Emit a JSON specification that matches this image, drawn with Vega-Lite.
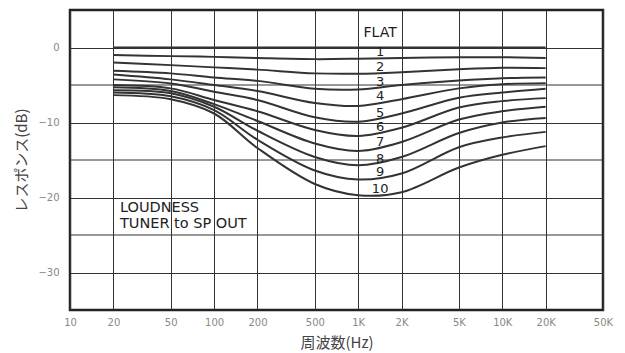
{
  "$schema": "https://vega.github.io/schema/vega-lite/v6.json",
  "width": 533,
  "height": 300,
  "autosize": {"type": "none"},
  "padding": {"left": 70, "top": 10, "right": 22, "bottom": 43},
  "background": "white",
  "config": {
    "view": {"stroke": "#222", "strokeWidth": 2.5},
    "font": "DejaVu Sans"
  },
  "datasets": {
    "curves": [
      {"s": "FLAT", "f": 20, "db": 0}, {"s": "FLAT", "f": 50, "db": 0}, {"s": "FLAT", "f": 100, "db": 0}, {"s": "FLAT", "f": 200, "db": 0}, {"s": "FLAT", "f": 500, "db": 0}, {"s": "FLAT", "f": 1000, "db": 0}, {"s": "FLAT", "f": 2000, "db": 0}, {"s": "FLAT", "f": 5000, "db": 0}, {"s": "FLAT", "f": 10000, "db": 0}, {"s": "FLAT", "f": 20000, "db": 0},
      {"s": "1", "f": 20, "db": -1.0}, {"s": "1", "f": 50, "db": -1.15}, {"s": "1", "f": 100, "db": -1.25}, {"s": "1", "f": 200, "db": -1.4}, {"s": "1", "f": 500, "db": -1.55}, {"s": "1", "f": 1000, "db": -1.5}, {"s": "1", "f": 2000, "db": -1.4}, {"s": "1", "f": 5000, "db": -1.3}, {"s": "1", "f": 10000, "db": -1.3}, {"s": "1", "f": 20000, "db": -1.4},
      {"s": "2", "f": 20, "db": -2.0}, {"s": "2", "f": 50, "db": -2.35}, {"s": "2", "f": 100, "db": -2.65}, {"s": "2", "f": 200, "db": -2.95}, {"s": "2", "f": 500, "db": -3.45}, {"s": "2", "f": 1000, "db": -3.5}, {"s": "2", "f": 2000, "db": -3.3}, {"s": "2", "f": 5000, "db": -2.9}, {"s": "2", "f": 10000, "db": -2.7}, {"s": "2", "f": 20000, "db": -2.75},
      {"s": "3", "f": 20, "db": -3.1}, {"s": "3", "f": 50, "db": -3.45}, {"s": "3", "f": 100, "db": -4.0}, {"s": "3", "f": 200, "db": -4.45}, {"s": "3", "f": 500, "db": -5.5}, {"s": "3", "f": 1000, "db": -5.6}, {"s": "3", "f": 2000, "db": -5.0}, {"s": "3", "f": 5000, "db": -4.4}, {"s": "3", "f": 10000, "db": -4.1}, {"s": "3", "f": 20000, "db": -4.0},
      {"s": "4", "f": 20, "db": -3.6}, {"s": "4", "f": 50, "db": -4.25}, {"s": "4", "f": 100, "db": -5.0}, {"s": "4", "f": 200, "db": -5.8}, {"s": "4", "f": 500, "db": -7.4}, {"s": "4", "f": 1000, "db": -7.8}, {"s": "4", "f": 2000, "db": -6.9}, {"s": "4", "f": 5000, "db": -5.45}, {"s": "4", "f": 10000, "db": -4.9}, {"s": "4", "f": 20000, "db": -4.75},
      {"s": "5", "f": 20, "db": -4.25}, {"s": "5", "f": 50, "db": -4.8}, {"s": "5", "f": 100, "db": -5.9}, {"s": "5", "f": 200, "db": -7.0}, {"s": "5", "f": 500, "db": -9.3}, {"s": "5", "f": 1000, "db": -9.9}, {"s": "5", "f": 2000, "db": -8.8}, {"s": "5", "f": 5000, "db": -6.7}, {"s": "5", "f": 10000, "db": -6.0}, {"s": "5", "f": 20000, "db": -5.5},
      {"s": "6", "f": 20, "db": -5.0}, {"s": "6", "f": 50, "db": -5.45}, {"s": "6", "f": 100, "db": -7.0}, {"s": "6", "f": 200, "db": -8.5}, {"s": "6", "f": 500, "db": -11.0}, {"s": "6", "f": 1000, "db": -11.8}, {"s": "6", "f": 2000, "db": -10.7}, {"s": "6", "f": 5000, "db": -8.0}, {"s": "6", "f": 10000, "db": -7.15}, {"s": "6", "f": 20000, "db": -6.75},
      {"s": "7", "f": 20, "db": -5.3}, {"s": "7", "f": 50, "db": -5.8}, {"s": "7", "f": 100, "db": -7.55}, {"s": "7", "f": 200, "db": -9.8}, {"s": "7", "f": 500, "db": -12.8}, {"s": "7", "f": 1000, "db": -13.8}, {"s": "7", "f": 2000, "db": -12.6}, {"s": "7", "f": 5000, "db": -9.6}, {"s": "7", "f": 10000, "db": -8.5}, {"s": "7", "f": 20000, "db": -7.9},
      {"s": "8", "f": 20, "db": -5.7}, {"s": "8", "f": 50, "db": -6.1}, {"s": "8", "f": 100, "db": -7.9}, {"s": "8", "f": 200, "db": -11.1}, {"s": "8", "f": 500, "db": -14.6}, {"s": "8", "f": 1000, "db": -15.7}, {"s": "8", "f": 2000, "db": -14.6}, {"s": "8", "f": 5000, "db": -11.4}, {"s": "8", "f": 10000, "db": -10.0}, {"s": "8", "f": 20000, "db": -9.4},
      {"s": "9", "f": 20, "db": -6.0}, {"s": "9", "f": 50, "db": -6.5}, {"s": "9", "f": 100, "db": -8.35}, {"s": "9", "f": 200, "db": -12.3}, {"s": "9", "f": 500, "db": -16.4}, {"s": "9", "f": 1000, "db": -17.6}, {"s": "9", "f": 2000, "db": -16.8}, {"s": "9", "f": 5000, "db": -13.3}, {"s": "9", "f": 10000, "db": -12.0}, {"s": "9", "f": 20000, "db": -11.25},
      {"s": "10", "f": 20, "db": -6.35}, {"s": "10", "f": 50, "db": -6.9}, {"s": "10", "f": 100, "db": -8.8}, {"s": "10", "f": 200, "db": -13.4}, {"s": "10", "f": 500, "db": -18.2}, {"s": "10", "f": 1000, "db": -19.7}, {"s": "10", "f": 2000, "db": -19.3}, {"s": "10", "f": 5000, "db": -16.0}, {"s": "10", "f": 10000, "db": -14.3}, {"s": "10", "f": 20000, "db": -13.15}
    ],
    "labels": [
      {"t": "FLAT", "f": 1420, "db": 1.9, "size": 14},
      {"t": "1", "f": 1420, "db": -0.6, "size": 13},
      {"t": "2", "f": 1420, "db": -2.55, "size": 13},
      {"t": "3", "f": 1420, "db": -4.6, "size": 13},
      {"t": "4", "f": 1420, "db": -6.5, "size": 13},
      {"t": "5", "f": 1420, "db": -8.7, "size": 13},
      {"t": "6", "f": 1420, "db": -10.6, "size": 13},
      {"t": "7", "f": 1420, "db": -12.6, "size": 13},
      {"t": "8", "f": 1420, "db": -14.8, "size": 13},
      {"t": "9", "f": 1420, "db": -16.6, "size": 13},
      {"t": "10", "f": 1420, "db": -18.85, "size": 13}
    ],
    "minorGrid": [
      {"db": -25}, {"db": -15}, {"db": -5}
    ],
    "note": [
      {"t": "LOUDNESS\nTUNER to SP OUT", "f": 22.2, "db": -20.4}
    ]
  },
  "layer": [
    {
      "data": {"name": "minorGrid"},
      "mark": {"type": "rule", "color": "#333", "strokeWidth": 1},
      "encoding": {
        "y": {"field": "db", "type": "quantitative"}
      }
    },
    {
      "data": {"name": "curves"},
      "mark": {"type": "line", "interpolate": "catmull-rom", "color": "#333", "strokeWidth": 2},
      "encoding": {
        "x": {
          "field": "f", "type": "quantitative",
          "scale": {"type": "log", "domain": [10, 50000], "nice": false},
          "axis": {
            "values": [10, 20, 50, 100, 200, 500, 1000, 2000, 5000, 10000, 20000, 50000],
            "labelExpr": "datum.value >= 1000 ? format(datum.value / 1000, 'd') + 'K' : format(datum.value, 'd')",
            "grid": true, "gridColor": "#333", "gridWidth": 1, "gridOpacity": 1,
            "ticks": false, "domain": false,
            "labelColor": "#888", "labelFontSize": 10, "labelPadding": 7,
            "labelFlush": false, "labelOverlap": false,
            "title": "周波数(Hz)", "titleFont": "Noto Sans CJK JP", "titleFontSize": 15,
            "titleFontWeight": "normal", "titleColor": "#444", "titlePadding": 8
          }
        },
        "y": {
          "field": "db", "type": "quantitative",
          "scale": {"domain": [-35, 5], "nice": false, "zero": false},
          "axis": {
            "values": [-30, -20, -10, 0],
            "grid": true, "gridColor": "#333", "gridWidth": 1, "gridOpacity": 1,
            "ticks": false, "domain": false,
            "labelColor": "#888", "labelFontSize": 10, "labelPadding": 11,
            "title": "レスポンス(dB)", "titleFont": "Noto Sans CJK JP", "titleFontSize": 15,
            "titleFontWeight": "normal", "titleColor": "#444", "titlePadding": 8
          }
        },
        "detail": {"field": "s", "type": "nominal"}
      }
    },
    {
      "data": {"name": "labels"},
      "mark": {"type": "text", "color": "#222", "font": "DejaVu Sans", "align": "center", "baseline": "middle"},
      "encoding": {
        "x": {"field": "f", "type": "quantitative"},
        "y": {"field": "db", "type": "quantitative"},
        "text": {"field": "t"},
        "size": {"field": "size", "type": "quantitative", "scale": null}
      }
    },
    {
      "data": {"name": "note"},
      "mark": {"type": "text", "color": "#222", "font": "DejaVu Sans", "fontSize": 14.5, "align": "left", "baseline": "top", "lineBreak": "\n", "lineHeight": 16},
      "encoding": {
        "x": {"field": "f", "type": "quantitative"},
        "y": {"field": "db", "type": "quantitative"},
        "text": {"field": "t"}
      }
    }
  ]
}
